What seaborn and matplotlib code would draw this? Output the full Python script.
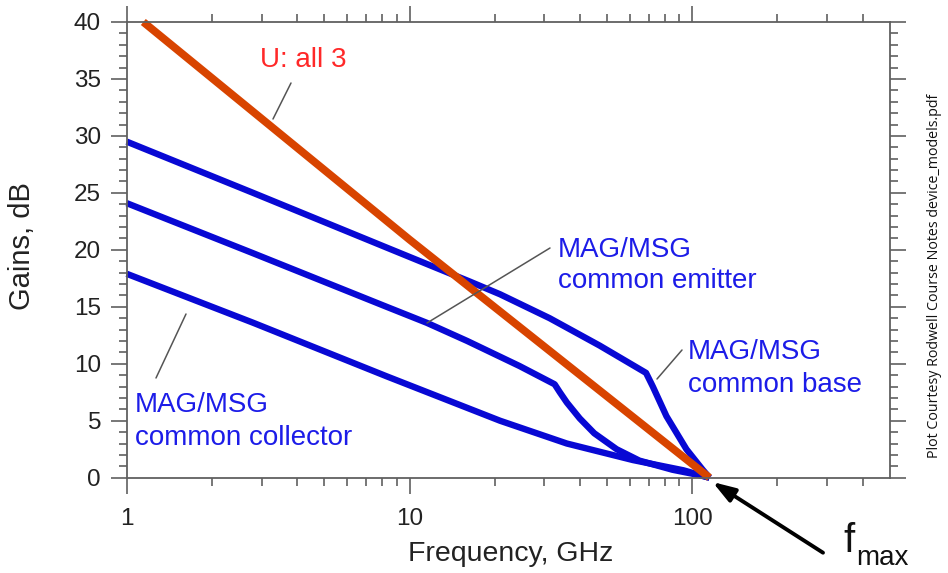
import numpy as np
import pandas as pd
import matplotlib
matplotlib.use("Agg")
import matplotlib.pyplot as plt
from matplotlib.ticker import FixedLocator, NullFormatter, FixedFormatter
import seaborn as sns

# ---- data ----
u_freq = [1.145, 10, 115]
u_gain = [40.0, 20.9, 0.0]

cb_freq = [1, 2.8, 8.3, 16.4, 20.9, 31.3, 47, 68.6, 72.5, 81, 95.3, 108.8, 115]
cb_gain = [29.5, 25.0, 20.2, 17.2, 16.1, 14.0, 11.6, 9.2, 8.0, 5.4, 2.5, 0.7, 0.0]

ce_freq = [1, 2.8, 8.3, 11.5, 16, 24.5, 32.6, 34.0, 36.0, 40.0, 45.0, 54.0, 65, 85, 104.7, 115]
ce_gain = [24.1, 19.7, 15.0, 13.6, 12.0, 9.8, 8.2, 7.5, 6.6, 5.2, 3.9, 2.5, 1.5, 0.7, 0.25, 0.0]

cc_freq = [1, 2.8, 8.3, 20.9, 36, 61.6, 93, 115]
cc_gain = [17.9, 13.6, 8.9, 5.0, 3.0, 1.55, 0.65, 0.0]

x_major = [1, 10, 100]
x_major_labels = ["1", "10", "100"]
y_major = [0, 5, 10, 15, 20, 25, 30, 35, 40]

# ---- style ----
sns.set_theme(style="ticks")
plt.rcParams["font.family"] = ["Liberation Sans", "DejaVu Sans"]

W, H = 948, 573
fig = plt.figure(figsize=(W / 100, H / 100), dpi=100)
L, R, T, B = 126.7, 890, 22, 477.7
ax = fig.add_axes([L / W, 1 - B / H, (R - L) / W, (B - T) / H])

BLUE = "#0808d4"
ORANGE = "#d84400"
TXT_BLUE = "#1c1ce8"
TXT_RED = "#ff2828"
GREY = "#606060"

def frame(f, g, name):
    return pd.DataFrame({"freq": f, "gain": g, "curve": name})

for f, g in [(cc_freq, cc_gain), (ce_freq, ce_gain), (cb_freq, cb_gain)]:
    sns.lineplot(data=frame(f, g, "b"), x="freq", y="gain", ax=ax, color=BLUE,
                 lw=4.6, estimator=None, sort=False, clip_on=False,
                 solid_capstyle="butt", solid_joinstyle="round")
sns.lineplot(data=frame(u_freq, u_gain, "u"), x="freq", y="gain", ax=ax, color=ORANGE,
             lw=5.6, estimator=None, sort=False, clip_on=False,
             solid_capstyle="butt")

ax.set_xscale("log")
ax.set_xlim(1, 500)
ax.set_ylim(0, 40)
ax.set_xlabel("")
ax.set_ylabel("")

minors = [m * 10 ** d for d in range(0, 3) for m in range(2, 10) if m * 10 ** d < 500]
ax.xaxis.set_major_locator(FixedLocator(x_major))
ax.xaxis.set_major_formatter(FixedFormatter(x_major_labels))
ax.xaxis.set_minor_locator(FixedLocator(minors))
ax.xaxis.set_minor_formatter(NullFormatter())
ax.yaxis.set_major_locator(FixedLocator(y_major))
ax.yaxis.set_minor_locator(FixedLocator(list(range(0, 41))))

for s in ax.spines.values():
    s.set_visible(True)
    s.set_color(GREY)
    s.set_linewidth(1.3)

ax.tick_params(which="both", direction="out", top=True, right=True,
               labeltop=False, labelright=False, color=GREY, width=1.2)
ax.tick_params(which="major", length=11.5, labelsize=17.5, labelcolor="#222222")
ax.tick_params(which="minor", length=6)
ax.tick_params(axis="x", which="major", pad=10)
ax.tick_params(axis="y", which="major", pad=7)

def fx(x):
    return x / W

def fy(y):
    return 1 - y / H

# axis titles
fig.text(fx(511), fy(561), "Frequency, GHz", ha="center", va="baseline",
         fontsize=20.5, color="#222222")
fig.text(fx(22), fy(246), "Gains, dB", ha="center", va="center", rotation=90,
         fontsize=21, color="#222222")

# curve labels
lab = dict(ha="left", va="baseline", fontsize=20)
fig.text(fx(260), fy(67), "U: all 3", color=TXT_RED, **lab)
fig.text(fx(135), fy(411.7), "MAG/MSG", color=TXT_BLUE, **lab)
fig.text(fx(135), fy(445), "common collector", color=TXT_BLUE, **lab)
fig.text(fx(558), fy(256.7), "MAG/MSG", color=TXT_BLUE, **lab)
fig.text(fx(558), fy(288.3), "common emitter", color=TXT_BLUE, **lab)
fig.text(fx(688), fy(359.3), "MAG/MSG", color=TXT_BLUE, **lab)
fig.text(fx(688), fy(391.7), "common base", color=TXT_BLUE, **lab)

# leader lines
def leader(x0, y0, x1, y1):
    ax.annotate("", xy=(x1, H - y1), xycoords="figure pixels",
                xytext=(x0, H - y0), textcoords="figure pixels",
                arrowprops=dict(arrowstyle="-", color="#555555", lw=1.1,
                                shrinkA=0, shrinkB=0))

leader(291, 83, 273, 119)
leader(186, 314, 156, 378)
leader(550, 248, 427, 323)
leader(682, 350, 657, 379)

# fmax arrow and label
ax.annotate("", xy=(712.5, H - 482), xycoords="figure pixels",
            xytext=(823, H - 552.7), textcoords="figure pixels",
            arrowprops=dict(arrowstyle="-|>,head_length=0.9,head_width=0.3",
                            color="black", lw=2.8,
                            mutation_scale=15, shrinkA=0, shrinkB=0))
fig.text(fx(843), fy(551.7), "f", ha="left", va="baseline", fontsize=29, color="#111111")
fig.text(fx(856), fy(565), "max", ha="left", va="baseline", fontsize=20, color="#111111")

# credit
fig.text(fx(935), fy(276), "Plot Courtesy Rodwell Course Notes device_models.pdf",
         rotation=90, ha="center", va="center", fontsize=10.3,
         family=["Open Sans", "DejaVu Sans"], color="#111111")

fig.savefig("out.png", dpi=100, facecolor="white")
